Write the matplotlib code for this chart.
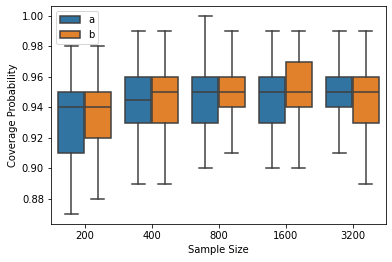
import matplotlib.pyplot as plt
from matplotlib.patches import Patch

sizes = ['200', '400', '800', '1600', '3200']

a_min = [0.87, 0.89, 0.90, 0.90, 0.91]
a_q1  = [0.91, 0.93, 0.93, 0.93, 0.94]
a_med = [0.94, 0.945, 0.95, 0.95, 0.95]
a_q3  = [0.95, 0.96, 0.96, 0.96, 0.96]
a_max = [0.98, 0.99, 1.00, 0.99, 0.99]

b_min = [0.88, 0.89, 0.91, 0.90, 0.89]
b_q1  = [0.92, 0.93, 0.94, 0.94, 0.93]
b_med = [0.94, 0.95, 0.95, 0.95, 0.95]
b_q3  = [0.95, 0.96, 0.96, 0.97, 0.96]
b_max = [0.98, 0.99, 0.99, 0.99, 0.99]

COLOR_A = '#3274a1'
COLOR_B = '#e1812c'
GRAY = '#3f3f3f'

def make_stats(mn, q1, med, q3, mx):
    return [dict(whislo=w0, q1=p1, med=m, q3=p3, whishi=w1, fliers=[])
            for w0, p1, m, p3, w1 in zip(mn, q1, med, q3, mx)]

fig = plt.figure(figsize=(392 / 72, 262 / 72), dpi=72)
ax = fig.add_axes([51 / 392, 38 / 262, 335 / 392, 218 / 262])

x = list(range(len(sizes)))
w = 0.4 * 0.98
line = dict(color=GRAY, linewidth=1.5)
for stats, off, col in [(make_stats(a_min, a_q1, a_med, a_q3, a_max), -0.2, COLOR_A),
                        (make_stats(b_min, b_q1, b_med, b_q3, b_max), 0.2, COLOR_B)]:
    ax.bxp(stats, positions=[i + off for i in x], widths=w, patch_artist=True,
           showfliers=False, manage_ticks=False,
           boxprops=dict(facecolor=col, edgecolor=GRAY, linewidth=1.5),
           medianprops=line, whiskerprops=line, capprops=line)

ax.set_xticks(x)
ax.set_xticklabels(sizes)
ax.set_xlim(-0.5, len(sizes) - 0.5)
ax.set_ylim(0.8635, 1.0065)
ax.set_yticks([0.88, 0.90, 0.92, 0.94, 0.96, 0.98, 1.00])
ax.set_yticklabels([f'{v:.2f}' for v in [0.88, 0.90, 0.92, 0.94, 0.96, 0.98, 1.00]])
ax.set_xlabel('Sample Size')
ax.set_ylabel('Coverage Probability')

handles = [Patch(facecolor=COLOR_A, edgecolor=GRAY, linewidth=1.5, label='a'),
           Patch(facecolor=COLOR_B, edgecolor=GRAY, linewidth=1.5, label='b')]
ax.legend(handles=handles, loc='upper left')

fig.savefig('out.png', dpi=72)
